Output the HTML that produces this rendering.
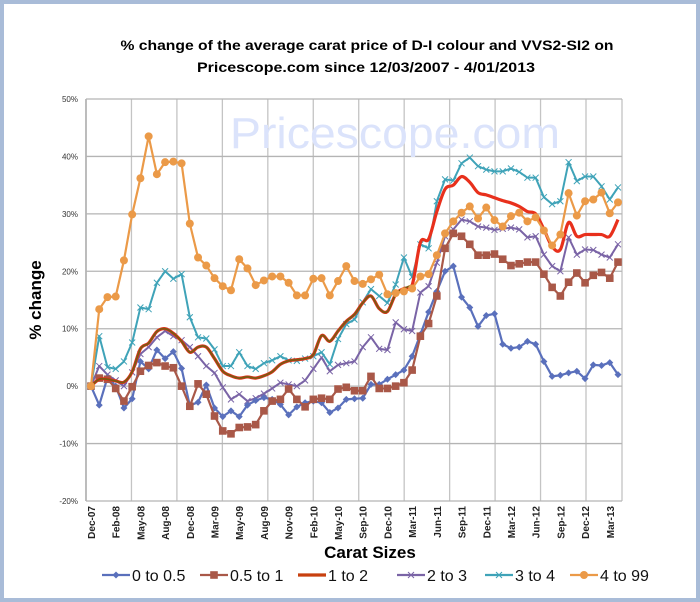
<!DOCTYPE html>
<html><head><meta charset="utf-8"><style>
html,body{margin:0;padding:0;background:#fff;}
svg{display:block;font-family:"Liberation Sans",sans-serif;}
</style></head><body>
<svg id="chart" width="700" height="602" viewBox="0 0 700 602" xmlns="http://www.w3.org/2000/svg">
<rect x="2" y="2" width="696" height="598" fill="#fff" stroke="#a9bcd8" stroke-width="4"/>
<text x="367" y="50" text-anchor="middle" font-size="14" font-weight="bold" textLength="493" lengthAdjust="spacingAndGlyphs">% change of the average carat price of  D-I colour and VVS2-SI2  on</text>
<text x="366" y="72" text-anchor="middle" font-size="14" font-weight="bold" textLength="338" lengthAdjust="spacingAndGlyphs">Pricescope.com since 12/03/2007 - 4/01/2013</text>
<g id="grid"></g>
<text x="395" y="148" text-anchor="middle" font-size="44" fill="#dbe3fb" textLength="330" lengthAdjust="spacingAndGlyphs">Pricescope.com</text>
<g id="series"></g>
<text transform="translate(41,300) rotate(-90)" text-anchor="middle" font-size="17" font-weight="bold">% change</text>
<text x="370" y="558" text-anchor="middle" font-size="17" font-weight="bold">Carat Sizes</text>
<g id="legend"></g>
</svg>
<script>
const categories = ["Dec-07","Feb-08","May-08","Aug-08","Dec-08","Mar-09","May-09","Aug-09","Nov-09","Feb-10","May-10","Sep-10","Dec-10","Mar-11","Jun-11","Sep-11","Dec-11","Mar-12","Jun-12","Sep-12","Dec-12","Mar-13"];
const yTicks = [50,40,30,20,10,0,-10,-20];
const yTickLabels = ["50%","40%","30%","20%","10%","0%","-10%","-20%"];
const seriesNames = ["0 to 0.5","0.5  to 1","1 to 2","2 to 3","3 to 4","4 to 99"];
const s0to05 = [0,-3.3,1.5,0,-3.8,-2.2,4.3,3,6.3,4.8,6,3.1,-3.4,-2.8,0.2,-3.8,-5.3,-4.3,-5.3,-3.3,-2.5,-2,-2.3,-3.2,-5,-3.6,-2.9,-2.6,-2.9,-4.6,-3.8,-2.3,-2.2,-2.1,0.3,0.3,1.2,2,2.8,5.2,9,12.9,16.5,20,20.9,15.5,13.7,10.4,12.3,12.6,7.3,6.6,6.8,7.8,7.3,4.3,1.7,1.9,2.3,2.6,1.3,3.7,3.6,4.1,2];
const s05to1 = [0,1.4,1.2,-0.4,-2.6,-0.1,2.6,3.6,4.1,3.5,3.2,0,-3.5,0.4,-1.4,-5.2,-7.8,-8.3,-7.2,-7.1,-6.7,-4.3,-2.6,-2.3,-0.5,-2.3,-3.6,-2.3,-2.1,-2.3,-0.5,-0.2,-0.8,-0.8,1.7,-0.4,-0.4,0,0.6,2.8,8.7,10.9,15.7,24,26.6,26.1,24.7,22.8,22.8,23,22.1,21,21.3,21.6,21.6,19.5,17.2,15.7,18.1,19.7,18,19.3,19.8,18.8,21.6];
const s1to2 = [0,1.2,1.2,0.9,0.7,2.5,6.5,7.5,9.5,10,9.2,7.8,5.9,6.8,6.8,4.8,2.6,1.8,1.4,1.6,1.4,1.8,2.5,3.8,4.4,4.6,4.8,5.5,8.8,7.8,9.6,11.3,12.5,14.5,15.7,13.5,13,16,17,17.6,25,25.6,30.4,34.3,35,36.5,35.5,33.7,33.3,32.8,32.3,31.9,31.3,30.4,30,27.3,24.3,23.8,28.5,26.1,26.4,26.4,26.4,26.1,29];
const s2to3 = [0,3.5,2,1,0,2.4,5.6,6.8,8.5,9.6,8.7,8,6.8,5.2,3.5,2.3,-0.2,-2.3,-1.4,-2.6,-2.1,-1.3,-0.4,0.6,0.3,0,1,3,5,2.6,3.7,4,4.3,6.8,8.5,6.5,6.3,11.1,9.9,9.6,16.3,17.4,21.5,26.1,27.3,29,28.7,27.8,27.6,27.2,27.4,27.6,27.3,25.9,26.1,22.9,20.9,20,25.9,22.9,23.8,23.7,22.9,22.4,24.7];
const s3to4 = [0,8.7,3.3,3,4.3,7.6,13.7,13.4,18,20,18.7,19.5,12,8.5,8.3,6.4,3.5,3.5,5.9,3.5,3,4,4.5,5.2,4.5,4.4,4.8,5.2,5.9,3.8,8.2,10.8,11.6,14.6,16.9,15.7,14.5,17.7,22.4,19,24.7,24,32.2,36,35.8,38.8,39.8,38.3,37.7,37.4,37.4,37.9,37.3,36.3,36.3,32.9,31.7,32.2,39,35.7,36.5,36.5,34.8,32.5,34.6];
const s4to99 = [0,13.4,15.5,15.6,21.9,29.9,36.2,43.5,36.9,39,39.1,38.8,28.3,22.4,21,18.8,17.4,16.7,22.1,20.5,17.6,18.4,19.1,19.1,18,15.8,15.8,18.7,18.8,15.8,18.3,20.9,18.3,17.8,18.6,19.4,16,16.2,16.5,17,19.1,19.5,22.8,26.6,28.7,30.2,31.3,29.2,31.1,28.9,27.8,29.6,30.2,28.7,29.4,27.1,24.5,26.4,33.6,29.7,32.2,32.5,33.7,30.1,32];

const NS = "http://www.w3.org/2000/svg";
const L = 86, R = 622, T = 99, B = 501;
const nPts = s0to05.length;
const x = i => 91 + i * (618 - 91) / (nPts - 1);
const y = v => B - (v + 20) / 70 * (B - T);
function mk(tag, attrs, parent) {
  const e = document.createElementNS(NS, tag);
  for (const k in attrs) e.setAttribute(k, attrs[k]);
  parent.appendChild(e);
  return e;
}
const grid = document.getElementById("grid");
for (let k = 0; k <= 11; k++) {
  const gx = L + k * (586 - L) / 11;
  const ln = mk("line", {x1: gx, x2: gx, y1: T, y2: B, stroke: k === 0 ? "#999" : "#c4c4c4", "stroke-width": 1.3}, grid);
  
  
}
const rb = mk("line", {x1: R, x2: R, y1: T, y2: B, stroke: "#c4c4c4", "stroke-width": 1.3}, grid);


yTicks.forEach((v, k) => {
  const ln = mk("line", {x1: L, x2: R, y1: y(v), y2: y(v), stroke: "#b4b4b4", "stroke-width": 1.3}, grid);
  
  
  const t = mk("text", {x: 78, y: y(v) + 3, "text-anchor": "end", "font-size": 8, fill: "#333"}, grid);
  t.textContent = yTickLabels[k];
  
  
});
categories.forEach((c, k) => {
  const xi = x(k * 3);
  const t = mk("text", {transform: `translate(${xi + 4},${B + 5}) rotate(-90)`, "text-anchor": "end", "font-size": 10, "font-weight": "bold", fill: "#222"}, grid);
  t.textContent = c;
  
  
});

function smoothPath(vals) {
  const p = vals.map((v, i) => [x(i), y(v)]);
  let d = `M${p[0][0]},${p[0][1]}`;
  for (let i = 0; i < p.length - 1; i++) {
    const p0 = p[Math.max(0, i - 1)], p1 = p[i], p2 = p[i + 1], p3 = p[Math.min(p.length - 1, i + 2)];
    const c1 = [p1[0] + (p2[0] - p0[0]) / 6, p1[1] + (p2[1] - p0[1]) / 6];
    const c2 = [p2[0] - (p3[0] - p1[0]) / 6, p2[1] - (p3[1] - p1[1]) / 6];
    d += ` C${c1[0]},${c1[1]} ${c2[0]},${c2[1]} ${p2[0]},${p2[1]}`;
  }
  return d;
}
function polyPath(vals) {
  return vals.map((v, i) => (i ? "L" : "M") + x(i) + "," + y(v)).join(" ");
}
const sg = document.getElementById("series");
function marker(type, cx, cy, color, parent) {
  let e;
  if (type === "diamond") e = mk("path", {d: `M${cx},${cy-3.5} L${cx+3.5},${cy} L${cx},${cy+3.5} L${cx-3.5},${cy} Z`, fill: color}, parent);
  else if (type === "square") e = mk("rect", {x: cx - 3.8, y: cy - 3.8, width: 7.6, height: 7.6, fill: color}, parent);
  else if (type === "circle") e = mk("circle", {cx: cx, cy: cy, r: 4, fill: color}, parent);
  else if (type === "x") e = mk("path", {d: `M${cx-3},${cy-3} L${cx+3},${cy+3} M${cx-3},${cy+3} L${cx+3},${cy-3}`, stroke: color, "stroke-width": 1}, parent);
  return e;
}
const specs = [
  {vals: s2to3, color: "#7a64a6", m: "x", w: 2, name: "series-2-to-3"},
  {vals: s0to05, color: "#5a70bc", m: "diamond", w: 2.2, name: "series-0-to-0-5"},
  {vals: s05to1, color: "#a95848", m: "square", w: 2.2, name: "series-0-5-to-1"},
  {vals: s3to4, color: "#3fa3b8", m: "x", w: 2, name: "series-3-to-4"},
  {vals: s1to2, color: "#e8301c", m: null, w: 3.2, name: "series-1-to-2"},
  {vals: s4to99, color: "#eb9a48", m: "circle", w: 2.2, name: "series-4-to-99"}
];
specs.forEach(s => {
  const g = mk("g", {}, sg);
  
  
  const path = mk("path", {d: s.m ? polyPath(s.vals) : smoothPath(s.vals), fill: "none", stroke: s.color, "stroke-width": s.w, "stroke-linejoin": "round"}, g);
  
  
  if (!s.m) {
    const early = s.vals.slice(0, 40);
    const ov = mk("path", {d: smoothPath(early), fill: "none", stroke: "#7a5a12", "stroke-width": 1.8}, g);
    
    
  } else {
    s.vals.forEach((v, i) => {
      const mkr = marker(s.m, x(i), y(v), s.color, g);
      
      
    });
  }
});
const legend = document.getElementById("legend");
const legendX = [102, 200, 298, 397, 485, 570];
const legendTypes = ["diamond", "square", null, "x", "x", "circle"];
const legendColors = ["#5a70bc", "#a95848", "#c8400f", "#7a64a6", "#3fa3b8", "#eb9a48"];
seriesNames.forEach((n, k) => {
  const g = mk("g", {}, legend);
  
  
  const lx = legendX[k], ly = 575;
  mk("line", {x1: lx, x2: lx + 28, y1: ly, y2: ly, stroke: legendColors[k], "stroke-width": k === 2 ? 3.2 : 2.2}, g);
  if (legendTypes[k]) marker(legendTypes[k], lx + 14, ly, legendColors[k], g);
  const t = mk("text", {x: lx + 30, y: ly + 6, "font-size": 16, fill: "#111"}, g);
  t.textContent = n;
});
</script>
</body></html>
